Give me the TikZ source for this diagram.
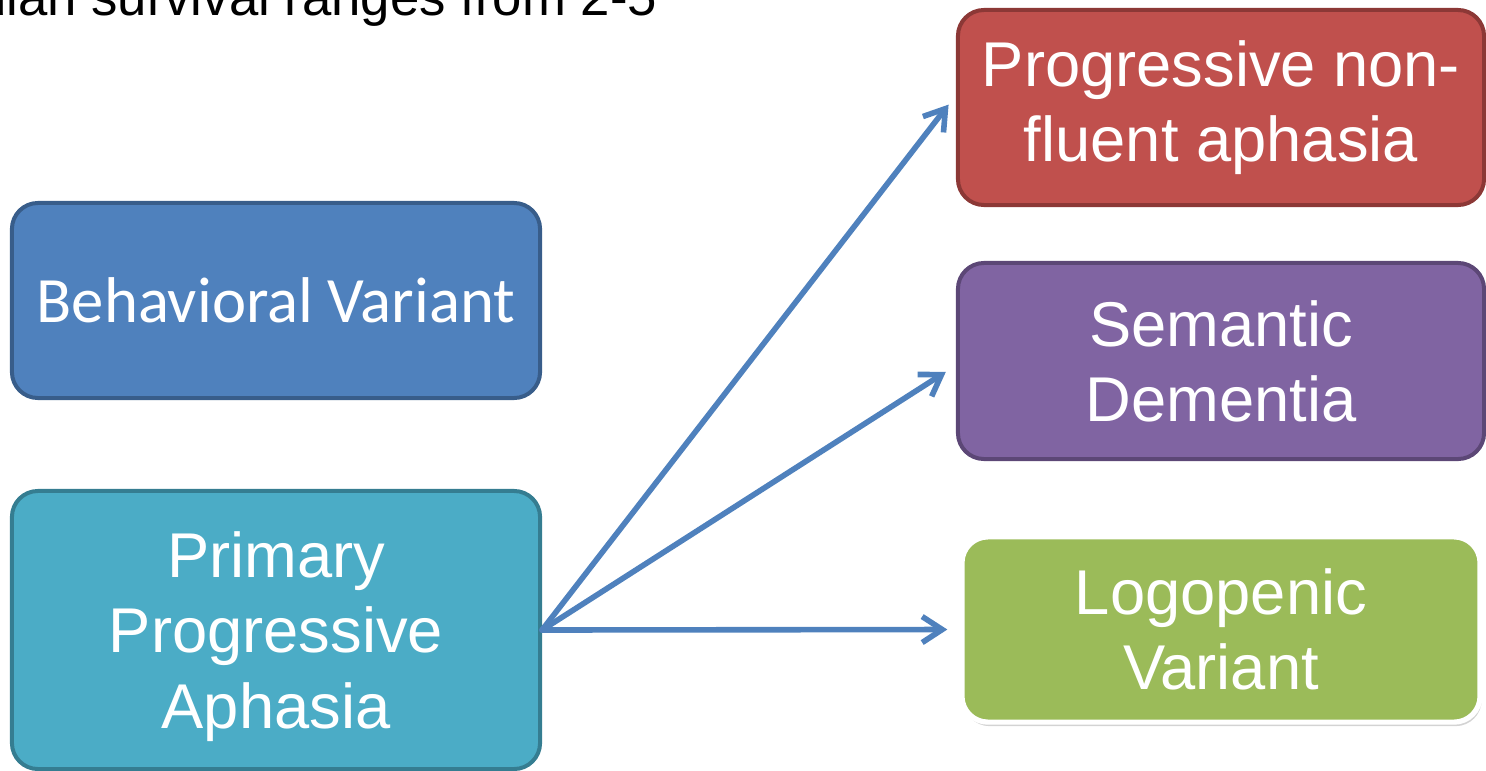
\documentclass[tikz,border=0pt]{standalone}
\usepackage{fontspec}
\setmainfont{Liberation Sans}
\newfontfamily\calibri{Carlito}
\usetikzlibrary{arrows.meta,shadows}

\definecolor{bvblue}{HTML}{4F81BD}
\definecolor{bvedge}{HTML}{385D8A}
\definecolor{ppateal}{HTML}{4BACC6}
\definecolor{ppaedge}{HTML}{357D91}
\definecolor{pnfared}{HTML}{C0504D}
\definecolor{pnfaedge}{HTML}{8C3836}
\definecolor{sdpurple}{HTML}{8064A2}
\definecolor{sdedge}{HTML}{5C4776}
\definecolor{lvgreen}{HTML}{9BBB59}

\begin{document}
\begin{tikzpicture}[x=0.025cm,y=-0.025cm,
    box/.style={rounded corners=0.65cm, line width=0.1cm, text=white, align=center,
        inner sep=0pt, font=\fontsize{45}{53.4}\selectfont},
    arr/.style={line width=0.14cm, draw=bvblue, shorten >=0.3cm, line cap=round,
        -{Straight Barb[length=0.5cm,width=0.65cm]}}]
    \useasboundingbox (0,0) rectangle (1486,770);
    \clip (0,0) rectangle (1486,770);
    % \fill[white] (0,0) rectangle (1486,770);
    \node[anchor=base east, font=\fontsize{37.5}{45}\selectfont] (note) at (662,15) {dian survival ranges from 2-5};

    \node[box, fill=bvblue, draw=bvedge, minimum width=13.2cm, minimum height=4.875cm,
        font=\calibri\fontsize{46}{55}\selectfont] (bv) at (276,300.5) {Behavioral Variant};
    \node[box, fill=ppateal, draw=ppaedge, minimum width=13.2cm, minimum height=6.95cm,
        text depth=-4.5pt] (ppa) at (276,630) {Primary\\Progressive\\Aphasia};

    \node[box, fill=pnfared, draw=pnfaedge, minimum width=13.15cm, minimum height=4.875cm] (pnfa) at (1221,107.5) {Progressive non-\\fluent aphasia};
    \node[box, fill=sdpurple, draw=sdedge, minimum width=13.15cm, minimum height=4.9cm] (sd) at (1221,361) {Semantic\\Dementia};
    \node[box, fill=lvgreen, draw=white, line width=0.13cm, minimum width=12.95cm, minimum height=4.63cm,
        drop shadow={shadow xshift=0.04cm, shadow yshift=-0.1cm, opacity=0.35}] (lv) at (1221,629.5) {Logopenic\\Variant};

    \draw[arr] (ppa.east) -- ([yshift=0.31cm]pnfa.west);
    \draw[arr] (ppa.east) -- ([yshift=-0.11cm]sd.west);
    \draw[arr] (ppa.east) -- (lv.west);
\end{tikzpicture}
\end{document}
